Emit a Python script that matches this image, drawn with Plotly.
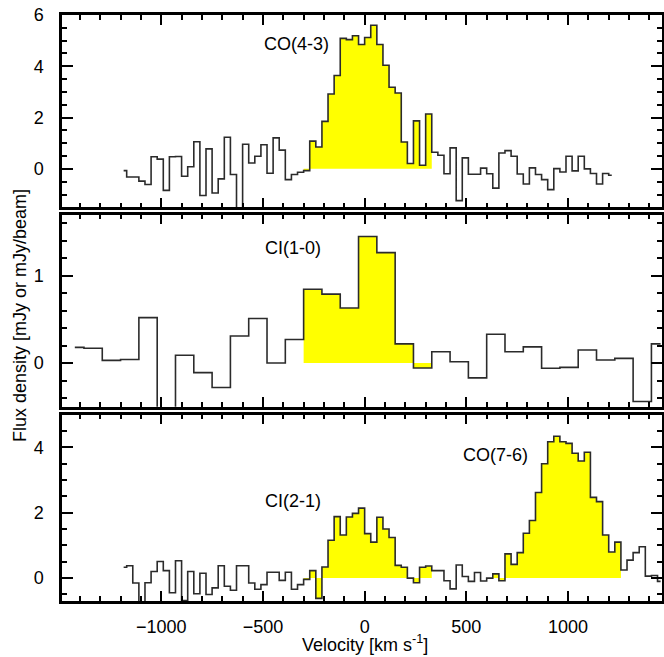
import numpy as np
import plotly.graph_objects as go
from plotly.subplots import make_subplots

# ---------------- data ----------------
# CO(4-3): channel centres start at -1185 km/s, 30 km/s channels
co43_v0, co43_dv = -1185, 30
co43_flux = [-0.07, -0.32, -0.32, -0.48, -0.61, 0.47, 0.38, -0.84, 0.47, 0.48,
             -0.29, 0.08, 1.06, -1.04, 0.78, -0.94, -0.39, 1.23, -0.22, -1.90,
             0.96, 0.23, 0.49, 0.94, -0.17, 1.21, 0.73, -0.42, -0.22, -0.13,
             -0.07, 1.08, 0.85, 1.85, 2.92, 3.64, 5.09, 5.04, 5.19, 4.85,
             5.12, 5.60, 4.85, 4.04, 3.18, 2.96, 1.05, 0.21, 1.87, 0.14,
             2.14, 0.65, 0.53, -0.19, 0.82, -1.24, 0.43, -0.21, -0.21, 0.03,
             -0.19, -0.75, 0.62, 0.71, 0.49, -0.20, -0.59, 0.04, -0.22, -0.42,
             -0.81, 0.01, -0.12, 0.49, -0.08, 0.49, 0.00, -0.18, -0.59, -0.18,
             -0.25]

# CI(1-0): channel centres start at -1425 km/s, 90 km/s channels
ci10_v0, ci10_dv = -1425, 90
ci10_flux = [0.18, 0.17, 0.03, 0.04, 0.52, -0.60, 0.09, -0.11, -0.28, 0.31,
             0.51, 0.00, 0.27, 0.845, 0.79, 0.63, 1.45, 1.265, 0.22, -0.057,
             0.13, 0.015, -0.17, 0.33, 0.13, 0.185, -0.06, -0.05, 0.15, 0.034,
             0.053, -0.44, 0.22]

# CI(2-1) + CO(7-6): channel centres start at -1185 km/s, 30 km/s channels
low_v0, low_dv = -1185, 30
low_flux = [0.33, 0.38, -0.15, -0.90, -0.14, 0.20, 0.51, 0.23, -0.45, 0.53,
            -0.69, 0.20, -0.48, 0.15, -0.50, -0.30, 0.38, -0.25, -0.37, 0.38,
            0.38, -0.15, -0.34, -0.20, 0.18, 0.18, -0.07, 0.18, -0.34, -0.20,
            -0.04, 0.23, -0.62, 0.34, 1.16, 1.88, 1.32, 1.87, 1.98, 2.14,
            1.36, 1.10, 1.86, 1.50, 1.24, 0.39, 0.33, 0.00, -0.14, 0.33,
            0.37, 0.23, 0.23, -0.08, -0.33, 0.40, 0.05, -0.10, 0.17, -0.09,
            0.00, 0.13, -0.08, 0.74, 0.42, 0.78, 1.37, 1.76, 2.62, 3.50,
            4.17, 4.34, 4.17, 4.12, 3.82, 3.58, 3.85, 2.47, 2.34, 1.32,
            0.80, 1.10, 0.25, 0.55, 0.78, 0.96, 0.06, 0.08, -0.10]

# integration windows (velocity edges, km/s)
co43_window = (-300, 330)
ci10_window = (-300, 330)
ci21_window = (-300, 330)
co76_window = (630, 1260)

# line labels: (text, velocity, flux, panel)
line_labels = [("CO(4-3)", -334, 4.87, 1),
               ("CI(1-0)", -354, 1.32, 2),
               ("CI(2-1)", -354, 2.35, 3),
               ("CO(7-6)", 644, 3.76, 3)]

x_range = [-1488, 1462]
y_ranges = {1: [-1.5, 6], 2: [-0.5, 1.7], 3: [-0.7, 5]}
y_dticks = {1: (2, 0.5), 2: (1, 0.2), 3: (2, 0.5)}

FONT = "Liberation Sans, Arial, Helvetica, sans-serif"
LINE_COL = "#2b2b2b"
FILL_COL = "#FFFF00"


def centres(v0, dv, n):
    return v0 + dv * np.arange(n)


def fill_poly(v, f, dv, window):
    v = np.asarray(v, float)
    f = np.asarray(f, float)
    lo, hi = window
    sel = (v - dv / 2 >= lo - 1e-6) & (v + dv / 2 <= hi + 1e-6)
    xs = np.column_stack([v[sel] - dv / 2, v[sel] + dv / 2]).ravel()
    ys = np.repeat(f[sel], 2)
    return xs, ys


fig = make_subplots(rows=3, cols=1, shared_xaxes=True)

panels = [
    (1, co43_v0, co43_dv, co43_flux, [co43_window]),
    (2, ci10_v0, ci10_dv, ci10_flux, [ci10_window]),
    (3, low_v0, low_dv, low_flux, [ci21_window, co76_window]),
]

for row, v0, dv, flux, windows in panels:
    v = centres(v0, dv, len(flux))
    for w in windows:
        xs, ys = fill_poly(v, flux, dv, w)
        fig.add_trace(go.Scatter(x=xs, y=ys, mode="none", fill="tozeroy",
                                 fillcolor=FILL_COL, showlegend=False,
                                 hoverinfo="skip"), row=row, col=1)
    fig.add_trace(go.Scatter(x=v, y=flux, mode="lines",
                             line=dict(shape="hvh", color=LINE_COL, width=1.6),
                             showlegend=False), row=row, col=1)

domains = {1: [0.6718, 1.0], 2: [0.3316, 0.6593], 3: [0.0, 0.3180]}

for row in (1, 2, 3):
    xa = "xaxis" if row == 1 else f"xaxis{row}"
    ya = "yaxis" if row == 1 else f"yaxis{row}"
    fig.layout[xa].update(
        range=x_range, showgrid=False, zeroline=False,
        showline=True, linewidth=2.5, linecolor="black", mirror="allticks",
        ticks="inside", ticklen=10, tickwidth=1.8, tickcolor="black",
        dtick=500, tick0=0,
        minor=dict(dtick=100, ticks="inside", ticklen=5, tickwidth=1.5,
                   tickcolor="black", showgrid=False),
        showticklabels=(row == 3), ticklabelstandoff=8, automargin=False,
        tickfont=dict(family=FONT, size=18, color="black"),
    )
    major, minor = y_dticks[row]
    fig.layout[ya].update(
        domain=domains[row], range=y_ranges[row], showgrid=False,
        zeroline=False, showline=True, linewidth=2.5, linecolor="black",
        mirror="allticks", ticks="inside", ticklen=11, tickwidth=1.8,
        tickcolor="black", dtick=major, tick0=0,
        minor=dict(dtick=minor, ticks="inside", ticklen=5, tickwidth=1.5,
                   tickcolor="black", showgrid=False),
        ticklabelstandoff=12, automargin=False,
        tickfont=dict(family=FONT, size=18, color="black"),
    )

annotations = []
for text, vx, fy, row in line_labels:
    xr = "x" if row == 1 else f"x{row}"
    yr = "y" if row == 1 else f"y{row}"
    annotations.append(dict(text=text, x=vx, y=fy, xref=xr, yref=yr,
                            showarrow=False, xanchor="center", yanchor="middle",
                            font=dict(family=FONT, size=18, color="black")))

# x-axis title, centred at v = 0, 42 px below the bottom frame
annotations.append(dict(text="Velocity [km s<sup>-1</sup>]", x=0,
                        y=(601 - 643) / 586, xref="x3", yref="paper",
                        xanchor="center", yanchor="middle", showarrow=False,
                        font=dict(family=FONT, size=18, color="black")))
# y-axis title
annotations.append(dict(text="Flux density [mJy or mJy/beam]", textangle=-90,
                        x=(20 - 62) / 600, xref="paper",
                        y=(601 - 316) / 586, yref="paper",
                        xanchor="center", yanchor="middle", showarrow=False,
                        font=dict(family=FONT, size=18, color="black")))

fig.update_layout(
    annotations=annotations,
    width=664, height=657,
    margin=dict(l=62, r=2, t=15, b=56, autoexpand=False),
    paper_bgcolor="white", plot_bgcolor="white",
    font=dict(family=FONT, size=18, color="black"),
    showlegend=False,
)

fig.write_html("out.html",
               config={"displayModeBar": False},
               post_script="document.body.style.margin='0';"
                           "document.body.style.overflow='hidden';")
